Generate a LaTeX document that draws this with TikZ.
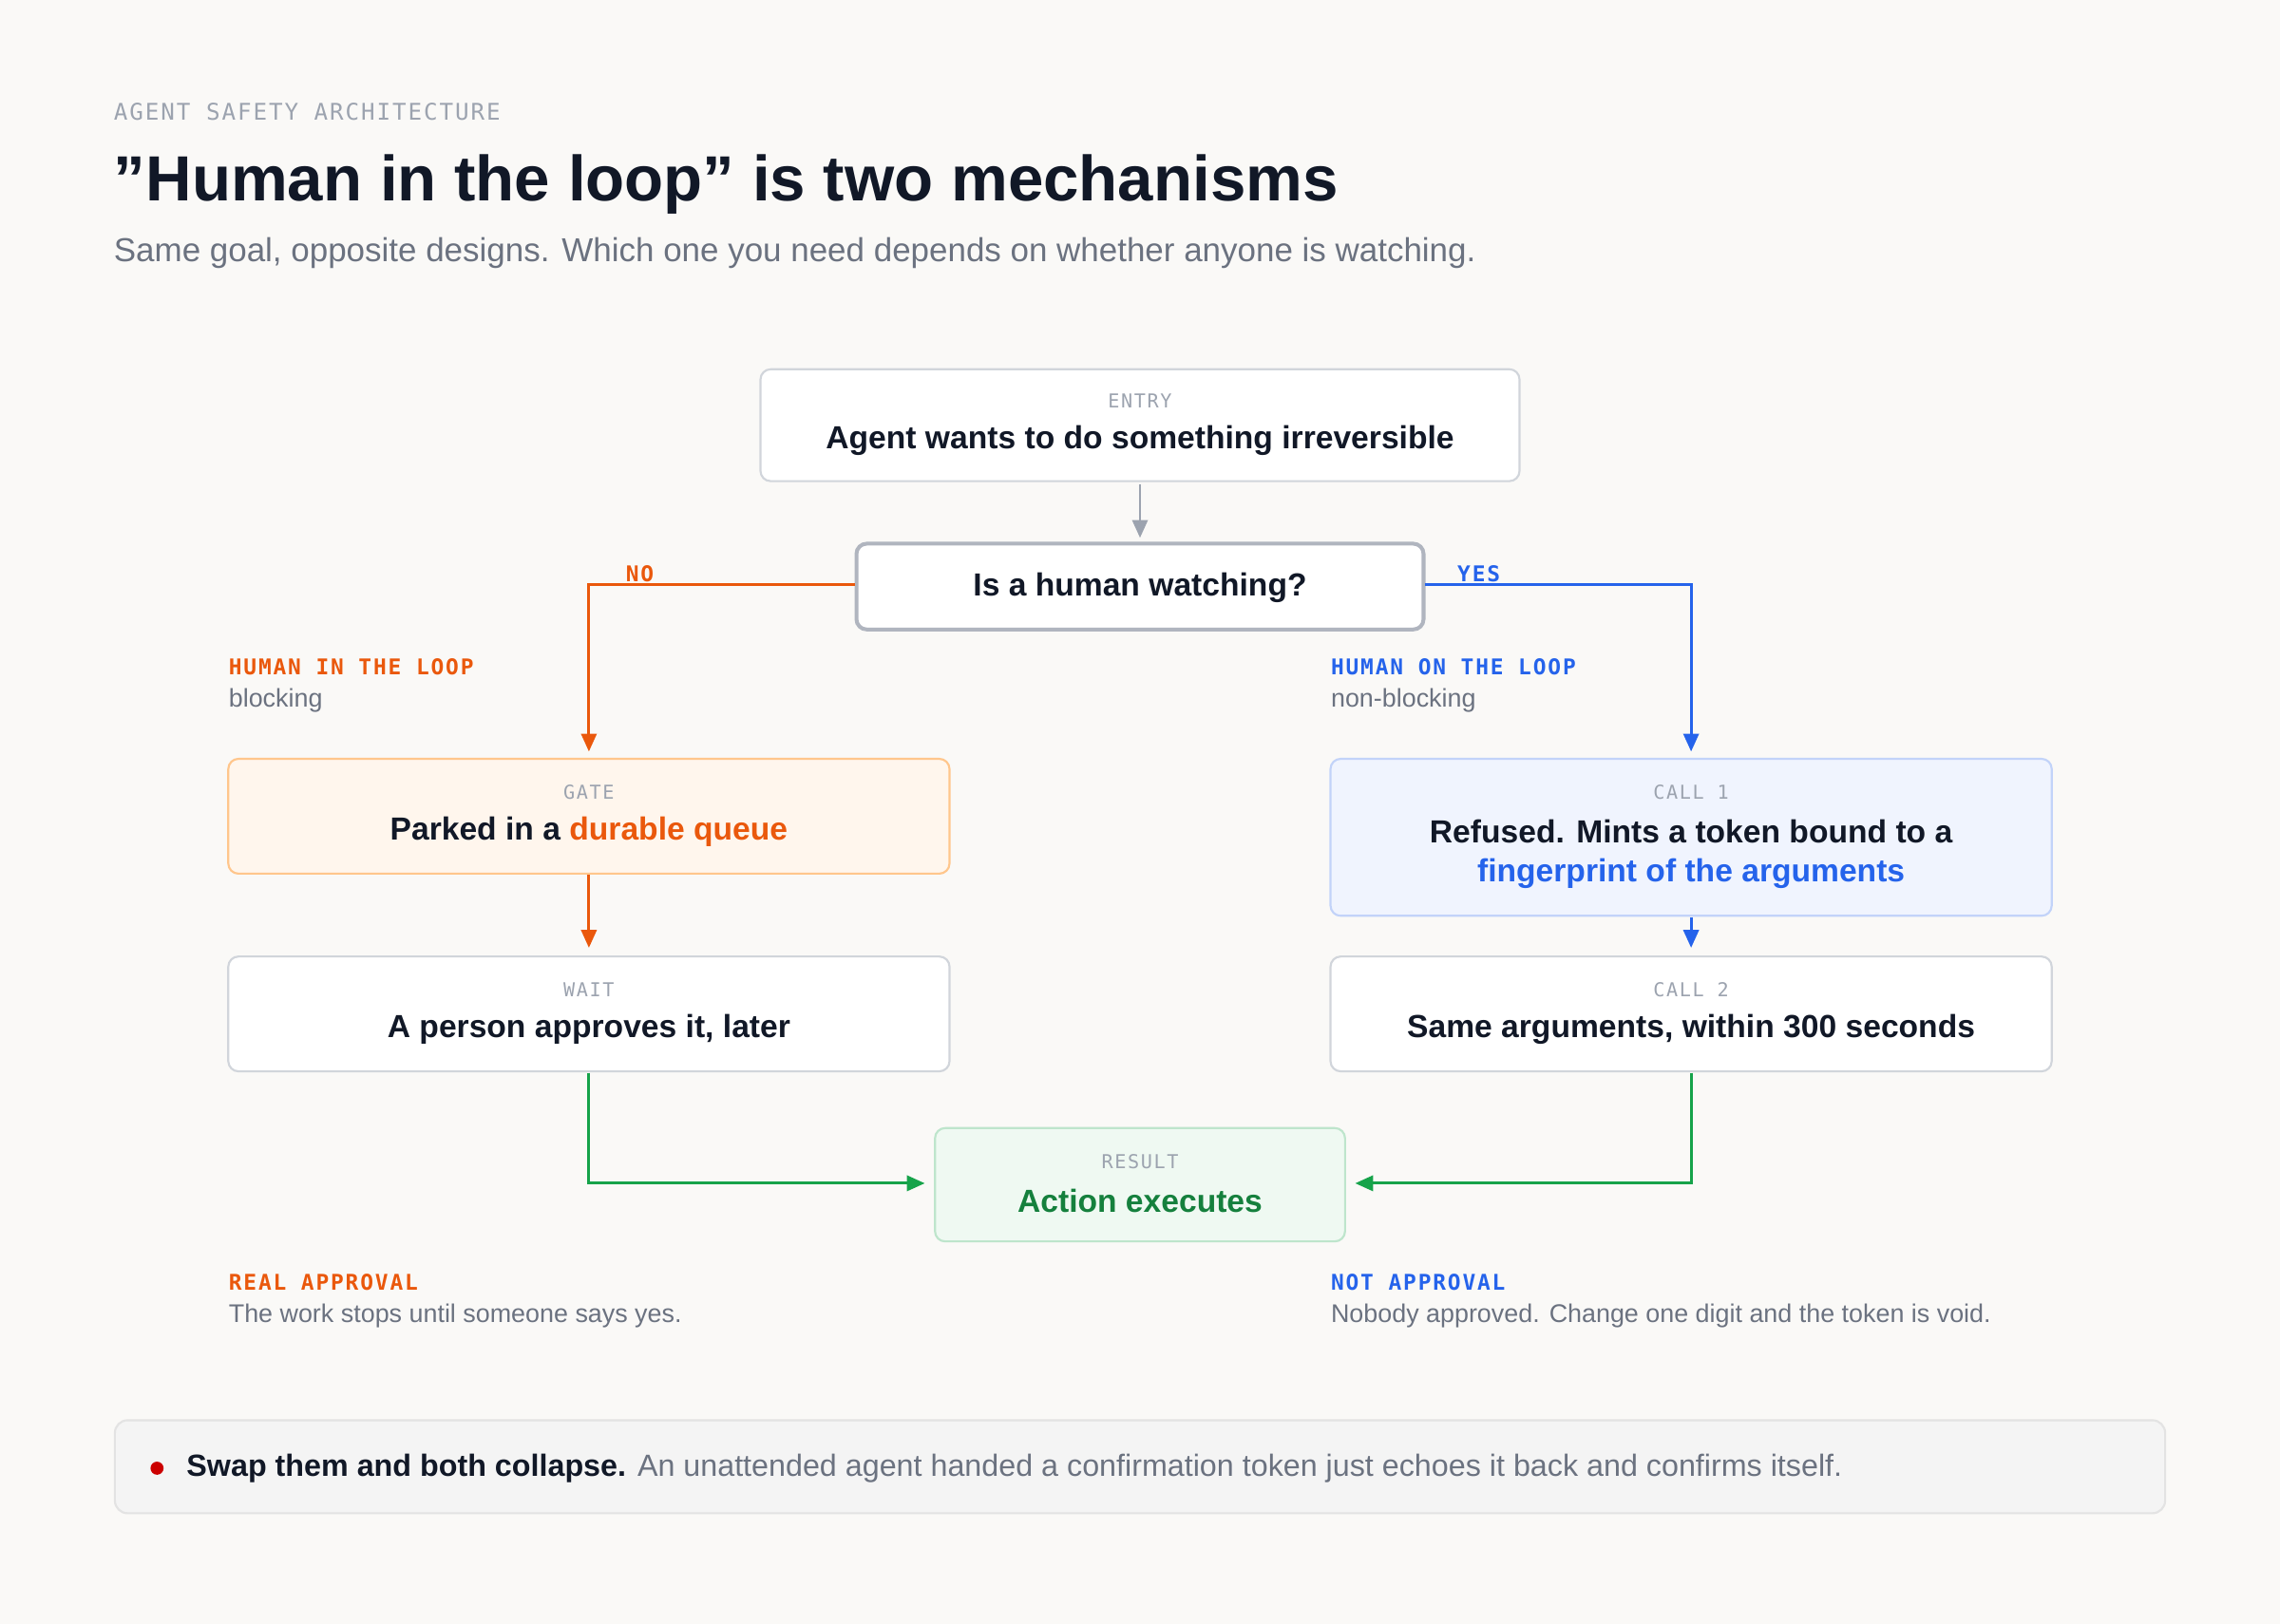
\documentclass[tikz,border=0pt]{standalone}
\usepackage{fontspec}
\setmainfont{Liberation Sans}
\newfontfamily\monof[LetterSpace=8]{DejaVu Sans Mono}
\newfontfamily\monob[LetterSpace=8]{DejaVu Sans Mono Bold}
\usetikzlibrary{arrows.meta}
\definecolor{bg}{HTML}{FAF9F7}
\definecolor{ink}{HTML}{111827}
\definecolor{gr}{HTML}{6B7280}
\definecolor{lg}{HTML}{9CA3AF}
\definecolor{bd}{HTML}{D1D5DB}
\definecolor{org}{HTML}{EA580C}
\definecolor{blu}{HTML}{2563EB}
\definecolor{grn}{HTML}{16A34A}
\definecolor{grnd}{HTML}{15803D}
\newcommand{\fz}[1]{\fontsize{#1}{#1}\selectfont}
\begin{document}
\begin{tikzpicture}[x=0.02cm,y=-0.02cm,
 box/.style={draw=bd,fill=white,rounded corners=4pt,line width=0.8pt},
 lab/.style={font=\monof\fz{7.5pt},text=lg,inner sep=0},
 main/.style={font=\bfseries\fz{12.5pt},text=ink,inner sep=0,align=center},
 capt/.style={font=\monob\fz{8.5pt},inner sep=0,anchor=west},
 sm/.style={font=\fz{10pt},text=gr,inner sep=0,anchor=west},
 arr/.style={line width=1.1pt,-{Triangle[length=7pt,width=6pt]}}]
\useasboundingbox[fill=bg] (0,0) rectangle (1568,1117);
\node[font=\monof\fz{9pt},text=lg,anchor=west,inner sep=0] (hdr) at (78,77) {AGENT SAFETY ARCHITECTURE};
\node[font=\bfseries\fz{25pt},text=ink,anchor=west,inner sep=0] (title) at (78,127) {"Human in the loop" is two mechanisms};
\node[font=\fz{13pt},text=gr,anchor=west,inner sep=0] (sub) at (78,174) {Same goal, opposite designs. Which one you need depends on whether anyone is watching.};
% entry
\draw[box] (523,254) rectangle (1045,331);
\node[lab] (l1) at (784,276) {ENTRY};
\node[main] (entry) at (784,303) {Agent wants to do something irreversible};
\coordinate (eb) at (784,333);
% decision
\draw[box,line width=1.5pt,draw=lg!80] (589,374) rectangle (979,433);
\node[main] (dec) at (784,404) {Is a human watching?};
\coordinate (dt) at (784,370);
\draw[arr,draw=lg] (eb) -- (dt);
% NO branch
\coordinate (dl) at (588,402); \coordinate (gt) at (405,517);
\draw[arr,org] (dl) -- (405,402) -- (gt);
\node[capt,text=org,fill=bg,inner xsep=8pt,anchor=center] (no) at (440,395) {NO};
\coordinate (dr) at (980,402); \coordinate (ct) at (1163,517);
\draw[arr,blu] (dr) -- (1163,402) -- (ct);
\node[capt,text=blu,fill=bg,inner xsep=8pt,anchor=center] (yes) at (1017,395) {YES};
% captions
\node[capt,text=org] (hil) at (157,459) {HUMAN IN THE LOOP};
\node[sm] (blk) at (157,482) {blocking};
\node[capt,text=blu] (hol) at (915,459) {HUMAN ON THE LOOP};
\node[sm] (nblk) at (915,482) {non-blocking};
% gate
\draw[box,fill=orange!7,draw=orange!45] (157,522) rectangle (653,601);
\node[lab] (l2) at (405,545) {GATE};
\node[main] (gate) at (405,572) {Parked in a \textcolor{org}{durable queue}};
\draw[arr,org] (405,602) -- (405,652);
% wait
\draw[box] (157,658) rectangle (653,737);
\node[lab] (l3) at (405,681) {WAIT};
\node[main] (wait) at (405,708) {A person approves it, later};
% call1
\draw[box,fill=blu!7,draw=blu!28] (915,522) rectangle (1411,630);
\node[lab] (l4) at (1163,545) {CALL 1};
\node[main] (c1a) at (1163,572) {Refused. Mints a token bound to a};
\node[main,text=blu] (c1b) at (1163,601) {fingerprint of the arguments};
\draw[arr,blu] (1163,631) -- (1163,652);
% call2
\draw[box] (915,658) rectangle (1411,737);
\node[lab] (l5) at (1163,681) {CALL 2};
\node[main] (c2) at (1163,708) {Same arguments, within 300 seconds};
% result
\draw[box,fill=grn!7,draw=grn!28] (643,776) rectangle (925,854);
\node[lab] (l6) at (784,799) {RESULT};
\node[main,text=grnd] (res) at (784,826) {Action executes};
\draw[arr,grn] (405,738) -- (405,814) -- (636,814);
\draw[arr,grn] (1163,738) -- (1163,814) -- (932,814);
% approvals
\node[capt,text=org] (ra) at (157,882) {REAL APPROVAL};
\node[sm] (rat) at (157,905) {The work stops until someone says yes.};
\node[capt,text=blu] (na) at (915,882) {NOT APPROVAL};
\node[sm] (nat) at (915,905) {Nobody approved. Change one digit and the token is void.};
% bottom
\draw[fill=gray!9,draw=gray!22,rounded corners=5pt,line width=0.8pt] (79,977) rectangle (1489,1041);
\fill[red!80!black] (108,1010) circle (4.5);
\node[anchor=west,inner sep=0,font=\fz{12pt},text=gr] (note) at (128,1010) {\textcolor{ink}{\bfseries Swap them and both collapse.} An unattended agent handed a confirmation token just echoes it back and confirms itself.};
\end{tikzpicture}
\end{document}
